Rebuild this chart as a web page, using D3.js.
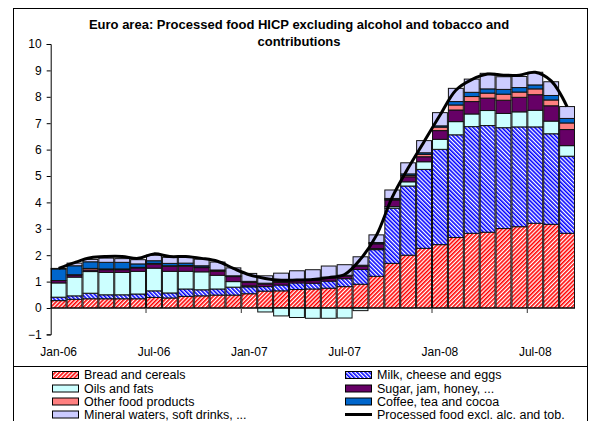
<!DOCTYPE html>
<html><head><meta charset="utf-8">
<script src="https://cdn.jsdelivr.net/npm/d3@7/dist/d3.min.js"></script>
<style>
html,body{margin:0;padding:0;background:#fff;}
svg{display:block;font-family:"Liberation Sans",Arial,sans-serif;}
</style></head>
<body>
<svg id="chart" width="598" height="421"></svg>
<script>
const months = ["Jan-06","Feb-06","Mar-06","Apr-06","May-06","Jun-06","Jul-06","Aug-06","Sep-06","Oct-06","Nov-06","Dec-06",
"Jan-07","Feb-07","Mar-07","Apr-07","May-07","Jun-07","Jul-07","Aug-07","Sep-07","Oct-07","Nov-07","Dec-07",
"Jan-08","Feb-08","Mar-08","Apr-08","May-08","Jun-08","Jul-08","Aug-08","Sep-08"];
const tickLabels = ["Jan-06","Jul-06","Jan-07","Jul-07","Jan-08","Jul-08"];
const yTicks = [-1,0,1,2,3,4,5,6,7,8,9,10];

const bread   = [0.28,0.33,0.35,0.35,0.35,0.35,0.40,0.38,0.44,0.46,0.49,0.49,0.54,0.64,0.65,0.70,0.72,0.75,0.81,0.90,1.20,1.69,2.00,2.26,2.40,2.67,2.83,2.87,3.01,3.08,3.21,3.17,2.83];
const milk    = [0.13,0.13,0.21,0.15,0.15,0.18,0.25,0.19,0.28,0.23,0.23,0.30,0.26,0.17,0.22,0.25,0.22,0.27,0.30,0.56,1.01,2.09,2.62,2.99,3.61,3.89,4.04,4.04,3.82,3.78,3.65,3.43,2.92];
const oils    = [0.54,0.71,0.82,0.85,0.85,0.86,0.86,0.82,0.67,0.68,0.52,0.21,0.04,-0.15,-0.30,-0.36,-0.39,-0.39,-0.38,-0.10,0.04,0.06,0.16,0.29,0.38,0.50,0.48,0.57,0.54,0.57,0.63,0.48,0.40];
const sugar   = [0.09,0.08,0.06,0.10,0.10,0.13,0.15,0.19,0.19,0.16,0.15,0.19,0.13,0.10,0.10,0.10,0.10,0.12,0.10,0.12,0.18,0.25,0.19,0.19,0.33,0.44,0.47,0.47,0.50,0.55,0.59,0.58,0.61];
const other   = [0.00,0.01,0.06,0.03,0.03,0.02,0.03,0.02,0.03,0.02,0.02,0.01,0.02,0.02,0.02,0.02,0.02,0.02,0.02,0.02,0.02,0.03,0.05,0.09,0.13,0.19,0.19,0.19,0.23,0.20,0.22,0.22,0.25];
const coffee  = [0.44,0.34,0.25,0.25,0.25,0.13,0.10,0.09,0.09,0.05,0.03,0.02,0.02,0.01,0.01,0.01,0.01,0.01,0.01,0.02,0.03,0.03,0.06,0.06,0.05,0.13,0.16,0.16,0.18,0.17,0.15,0.17,0.17];
const mineral = [0.02,0.10,0.09,0.16,0.14,0.16,0.21,0.23,0.23,0.25,0.30,0.30,0.30,0.28,0.32,0.33,0.38,0.42,0.40,0.32,0.29,0.32,0.42,0.46,0.50,0.50,0.50,0.59,0.48,0.42,0.48,0.52,0.45];
const total   = [1.50,1.72,1.90,1.95,1.95,1.88,2.05,1.95,1.95,1.88,1.77,1.50,1.26,1.12,1.05,1.06,1.08,1.15,1.27,1.85,2.75,4.20,5.30,6.30,7.30,8.25,8.65,8.86,8.82,8.82,8.93,8.60,7.63];

const seriesNames = ["Bread and cereals","Milk, cheese and eggs","Oils and fats","Sugar, jam, honey, ...","Other food products","Coffee, tea and cocoa","Mineral waters, soft drinks, ..."];
const lineName = "Processed food excl. alc. and tob.";
const keys = ["bread","milk","oils","sugar","other","coffee","mineral"];
const fills = {bread:"url(#hRed)", milk:"url(#hBlue)", oils:"#ccffff", sugar:"#660066", other:"#ff8080", coffee:"#0066cc", mineral:"#ccccff"};

const table = months.map((m,i)=>({month:m, bread:bread[i], milk:milk[i], oils:oils[i], sugar:sugar[i], other:other[i], coffee:coffee[i], mineral:mineral[i], total:total[i]}));

const svg = d3.select("#chart");
const defs = svg.append("defs");
function hatch(id,color,angle){
  const p = defs.append("pattern").attr("id",id).attr("patternUnits","userSpaceOnUse")
    .attr("width",2.9).attr("height",2.9).attr("patternTransform","rotate("+angle+")");
  p.append("rect").attr("width",2.9).attr("height",2.9).attr("fill","#fff");
  p.append("rect").attr("width",1.6).attr("height",2.9).attr("fill",color);
}
hatch("hRed","#ff0000",45);
hatch("hBlue","#0000ff",-45);

// frame
svg.append("rect").attr("x",13.5).attr("y",8.5).attr("width",574).attr("height",430)
  .attr("fill","none").attr("stroke","#000").attr("stroke-width",1);
svg.append("line").attr("x1",13.5).attr("x2",587.5).attr("y1",366.5).attr("y2",366.5).attr("stroke","#000");

// title
const title = svg.append("text").attr("text-anchor","middle").attr("font-weight","bold").attr("font-size",13).attr("fill","#000");
title.append("tspan").attr("x",299).attr("y",28.5).text("Euro area: Processed food HICP excluding alcohol and tobacco and");
title.append("tspan").attr("x",299).attr("y",46).text("contributions");

const x = d3.scaleBand().domain(months).range([50.7,575]).padding(0);
const y = d3.scaleLinear().domain([-1,10]).range([334.4,44]);

const stack = d3.stack().keys(keys).offset(d3.stackOffsetDiverging);
const layers = stack(table);

const g = svg.append("g");
g.selectAll("g.layer").data(layers).join("g").attr("class","layer")
  .attr("fill",d=>fills[d.key])
  .selectAll("rect").data(d=>d).join("rect")
  .attr("x",d=>x(d.data.month)+0.5)
  .attr("width",x.bandwidth()-1)
  .attr("y",d=>y(Math.max(d[0],d[1])))
  .attr("height",d=>Math.abs(y(d[0])-y(d[1])))
  .attr("stroke","#111").attr("stroke-width",1);

// y axis
const yAxis = d3.axisLeft(y).tickValues(yTicks).tickSize(4).tickPadding(5).tickFormat(d3.format("d"));
const ya = svg.append("g").attr("transform","translate(50.7,0)").call(yAxis);
ya.select(".domain").attr("stroke","#000");
ya.selectAll(".tick line").attr("stroke","#000");
ya.selectAll("text").attr("font-size",12).attr("fill","#000").attr("font-family","Liberation Sans, Arial, sans-serif");

// x axis line at zero
svg.append("line").attr("x1",50.7).attr("x2",575).attr("y1",y(0)).attr("y2",y(0)).attr("stroke","#000").attr("stroke-width",1.2);
// ticks between categories every 6
const tickMonths = months.filter((m,i)=>i%6===0 && i>0);
svg.selectAll("line.xt").data(tickMonths).join("line").attr("class","xt")
  .attr("x1",d=>x(d)).attr("x2",d=>x(d)).attr("y1",y(0)).attr("y2",y(0)+5)
  .attr("stroke","#555").attr("stroke-width",1.2);
// x labels
svg.selectAll("text.xl").data(tickLabels).join("text").attr("class","xl")
  .attr("x",d=>x(d)+x.bandwidth()/2).attr("y",356).attr("text-anchor","middle")
  .attr("font-size",12).attr("fill","#000").text(d=>d);

// line
const line = d3.line().x(d=>x(d.month)+x.bandwidth()/2).y(d=>y(d.total)).curve(d3.curveCatmullRom.alpha(0.5));
svg.append("path").datum(table).attr("d",line).attr("fill","none").attr("stroke","#000").attr("stroke-width",3).attr("stroke-linejoin","round");

// legend
const legendItems = [
  {name:seriesNames[0], key:"bread", col:0,row:0},
  {name:seriesNames[1], key:"milk", col:1,row:0},
  {name:seriesNames[2], key:"oils", col:0,row:1},
  {name:seriesNames[3], key:"sugar", col:1,row:1},
  {name:seriesNames[4], key:"other", col:0,row:2},
  {name:seriesNames[5], key:"coffee", col:1,row:2},
  {name:seriesNames[6], key:"mineral", col:0,row:3},
  {name:lineName, key:"line", col:1,row:3}
];
const colX = [52,345];
const rowY = [375,388.5,401.5,414.5];
const lg = svg.append("g");
legendItems.forEach(it=>{
  const gx = colX[it.col], gy = rowY[it.row];
  if(it.key==="line"){
    lg.append("line").attr("x1",gx).attr("x2",gx+27).attr("y1",gy).attr("y2",gy).attr("stroke","#000").attr("stroke-width",3);
  } else {
    lg.append("rect").attr("x",gx+0.5).attr("y",gy-3.5).attr("width",26).attr("height",7)
      .attr("fill",fills[it.key]).attr("stroke","#000").attr("stroke-width",1);
  }
  lg.append("text").attr("x",gx+32).attr("y",gy+4.4).attr("font-size",12.5).attr("fill","#000").text(it.name);
});
</script>
</body></html>
